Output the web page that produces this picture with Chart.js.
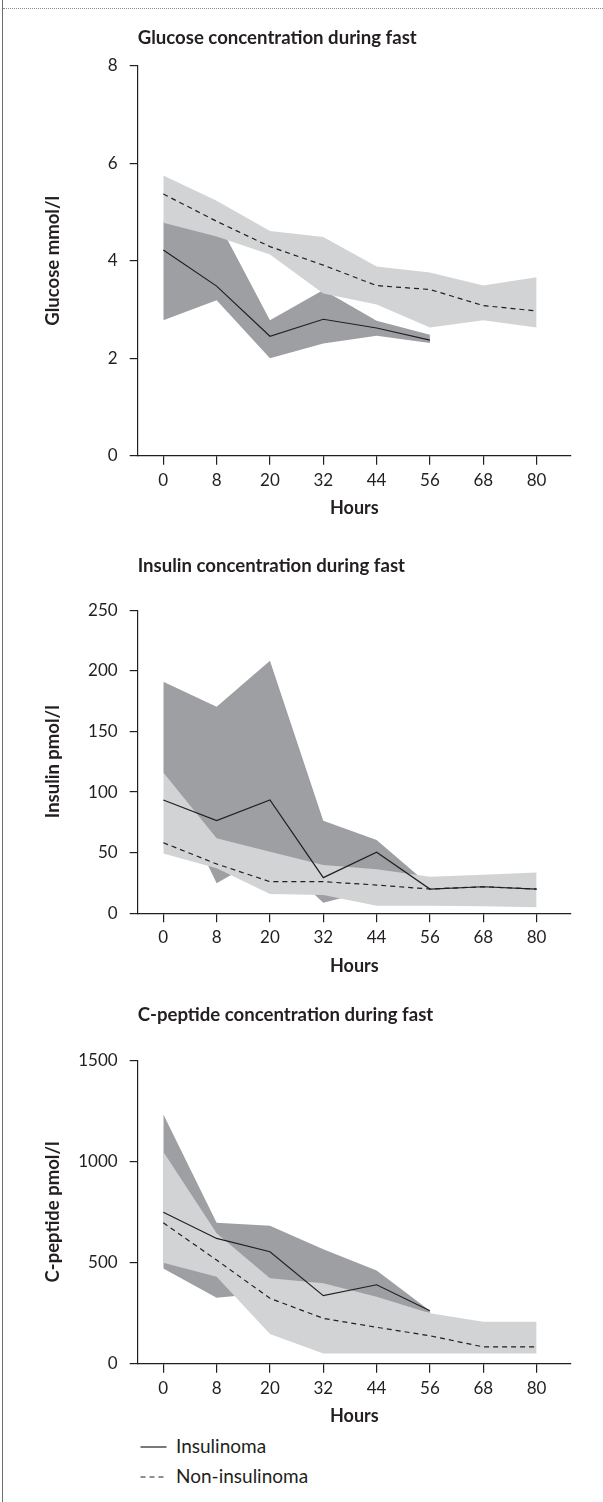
<!DOCTYPE html>
<html>
<head>
<meta charset="utf-8">
<title>Glucose, insulin and C-peptide during fast</title>
<script src="https://cdn.jsdelivr.net/npm/chart.js@4.4.1/dist/chart.umd.min.js"></script>
<style>
  body { margin: 0; background: #fff; }
  #page { position: relative; width: 603px; height: 1502px; overflow: hidden; font-family: Lato, sans-serif; color: #231f20; }
  #frame-left { position: absolute; left: 2px; top: 0; width: 1px; height: 1502px; background: #6d6e70; }
  #frame-top { position: absolute; left: 3px; right: 0; top: 8px; border-top: 1px dotted #8a8b8d; }
  canvas { position: absolute; left: 0; }
  .legend-item { position: absolute; left: 140px; height: 20px; line-height: 20px; font-size: 19px; white-space: nowrap; }
  .legend-item svg { position: absolute; left: 0; top: 0; }
  .legend-item span { position: absolute; left: 36px; top: -1px; }
</style>
</head>
<body>
<div id="page">
  <div id="frame-left"></div>
  <div id="frame-top"></div>
  <canvas id="glucoseChart" width="603" height="531" style="top:0px"></canvas>
  <canvas id="insulinChart" width="603" height="459" style="top:531px"></canvas>
  <canvas id="peptideChart" width="603" height="440" style="top:990px"></canvas>
  <div class="legend-item" style="top:1437px">
    <svg width="27" height="20"><line x1="0.5" y1="10" x2="26.5" y2="10" stroke="#231f20" stroke-width="1.2"/></svg>
    <span>Insulinoma</span>
  </div>
  <div class="legend-item" style="top:1467px">
    <svg width="27" height="20"><line x1="0.5" y1="10" x2="26.5" y2="10" stroke="#231f20" stroke-width="1.2" stroke-dasharray="5 4"/></svg>
    <span>Non-insulinoma</span>
  </div>
</div>
<script>
const hourLabels = ["0", "8", "20", "32", "44", "56", "68", "80"];

// glucose, mmol/l
const glucoseNonMedian = [5.37, 4.81, 4.29, 3.91, 3.49, 3.41, 3.08, 2.97];
const glucoseNonHigh = [5.75, 5.23, 4.61, 4.49, 3.88, 3.76, 3.49, 3.66];
const glucoseNonLow = [4.78, 4.5, 4.13, 3.33, 3.1, 2.63, 2.78, 2.63];
const glucoseInsMedian = [4.22, 3.48, 2.45, 2.8, 2.62, 2.37];
const glucoseInsHigh = [4.8, 4.85, 2.78, 3.4, 2.77, 2.48];
const glucoseInsLow = [2.78, 3.19, 2.0, 2.3, 2.46, 2.31];

// insulin, pmol/l
const insulinNonMedian = [58.2, 40.7, 26.1, 26.1, 23.3, 20.0, 21.9, 20.0];
const insulinNonHigh = [116.2, 61.8, 50.8, 39.8, 36.4, 30.1, 31.8, 33.7];
const insulinNonLow = [49.4, 37.1, 15.9, 15.1, 6.3, 6.3, 5.8, 4.9];
const insulinInsMedian = [93.4, 76.4, 93.4, 29.4, 50.4, 20.0, 21.9, 20.0];
const insulinInsHigh = [190.9, 170.3, 208.2, 76.4, 60.5, 22.7];
const insulinInsLow = [116, 24.7, 50, 8.8, 20, 18];

// C-peptide, pmol/l
const peptideNonMedian = [696, 512, 323, 224, 180, 138, 83, 83];
const peptideNonHigh = [1047, 645, 422, 397, 331, 249, 207, 207];
const peptideNonLow = [499, 430, 147, 51, 51, 51, 51, 51];
const peptideInsMedian = [748, 619, 553, 336, 390, 262];
const peptideInsHigh = [1232, 696, 682, 565, 460, 262];
const peptideInsLow = [471, 326, 350, 330, 300, 250];

const TEXT = "#231f20";
const DARK = "#9d9fa2";
const LIGHT = "#d1d3d4";
const FONT = "Lato";
const AXIS_LEFT = 137.7;
const AXIS_RIGHT = 571;
const X_MIN = -0.48;
const X_MAX = 7.645;

function toPoints(values) {
  return values.map((v, i) => ({ x: i, y: v }));
}

function makeDatasets(nonHigh, nonLow, nonMedian, insHigh, insLow, insMedian) {
  const band = { borderWidth: 0, borderColor: "rgba(0,0,0,0)", pointRadius: 0 };
  return [
    { ...band, data: toPoints(insHigh), order: 6, fill: false },
    { ...band, data: toPoints(insLow), order: 5, fill: "-1", backgroundColor: DARK },
    { ...band, data: toPoints(nonHigh), order: 4, fill: false },
    { ...band, data: toPoints(nonLow), order: 3, fill: "-1", backgroundColor: LIGHT },
    {
      data: toPoints(nonMedian), order: 2, fill: false, pointRadius: 0,
      borderColor: TEXT, borderWidth: 1.2, borderDash: [5, 4],
    },
    {
      data: toPoints(insMedian), order: 1, fill: false, pointRadius: 0,
      borderColor: TEXT, borderWidth: 1.2,
    },
  ];
}

function makeChart(id, s) {
  return new Chart(document.getElementById(id), {
    type: "line",
    data: { datasets: s.datasets },
    options: {
      responsive: false,
      animation: false,
      events: [],
      layout: { padding: { left: 0, right: 603 - AXIS_RIGHT, top: 0, bottom: 0 } },
      plugins: {
        legend: { display: false },
        tooltip: { enabled: false },
        title: {
          display: true,
          text: s.title,
          align: "start",
          fullSize: false,
          color: TEXT,
          font: { family: FONT, size: 18.6, weight: "bold" },
          padding: { top: s.titleTop, bottom: s.titleBottom },
        },
      },
      scales: {
        x: {
          type: "linear",
          min: X_MIN,
          max: X_MAX,
          afterBuildTicks: (axis) => {
            axis.ticks = hourLabels.map((h, i) => ({ value: i }));
          },
          afterFit: (axis) => {
            axis.height = s.xHeight;
          },
          ticks: {
            callback: (v) => hourLabels[v],
            autoSkip: false,
            maxRotation: 0,
            padding: 5.2,
            color: TEXT,
            font: { family: FONT, size: 17 },
          },
          grid: { drawOnChartArea: false, drawTicks: true, tickLength: 9, color: TEXT, lineWidth: 1.2 },
          border: { display: true, color: TEXT, width: 1.2 },
          title: {
            display: true,
            text: "Hours",
            color: TEXT,
            font: { family: FONT, size: 18, weight: "bold" },
            padding: { top: 0, bottom: s.hoursPad },
          },
        },
        y: {
          min: s.yMin,
          max: s.yMax,
          afterFit: (axis) => {
            axis.width = AXIS_LEFT;
          },
          ticks: {
            stepSize: s.yStep,
            callback: (v) => String(v),
            padding: 12,
            color: TEXT,
            font: { family: FONT, size: 17 },
          },
          grid: { drawOnChartArea: false, drawTicks: true, tickLength: 8, color: TEXT, lineWidth: 1.2 },
          border: { display: true, color: TEXT, width: 1.2 },
          title: {
            display: true,
            text: s.yTitle,
            color: TEXT,
            font: { family: FONT, size: 18.5, weight: "bold" },
            padding: { top: 41.9, bottom: 0 },
          },
        },
      },
    },
  });
}

makeChart("glucoseChart", {
  title: "Glucose concentration during fast",
  yTitle: "Glucose mmol/l",
  yMin: 0, yMax: 8, yStep: 2,
  titleTop: 26.5, titleBottom: 17.0, xHeight: 75.3, hoursPad: 12.2,
  datasets: makeDatasets(glucoseNonHigh, glucoseNonLow, glucoseNonMedian,
    glucoseInsHigh, glucoseInsLow, glucoseInsMedian),
});

makeChart("insulinChart", {
  title: "Insulin concentration during fast",
  yTitle: "Insulin pmol/l",
  yMin: 0, yMax: 250, yStep: 50,
  titleTop: 23.8, titleBottom: 33.0, xHeight: 76.7, hoursPad: 13.2,
  datasets: makeDatasets(insulinNonHigh, insulinNonLow, insulinNonMedian,
    insulinInsHigh, insulinInsLow, insulinInsMedian),
});

makeChart("peptideChart", {
  title: "C-peptide concentration during fast",
  yTitle: "C-peptide pmol/l",
  yMin: 0, yMax: 1500, yStep: 500,
  titleTop: 13.8, titleBottom: 34.0, xHeight: 66.3, hoursPad: 3.2,
  datasets: makeDatasets(peptideNonHigh, peptideNonLow, peptideNonMedian,
    peptideInsHigh, peptideInsLow, peptideInsMedian),
});
</script>
</body>
</html>
